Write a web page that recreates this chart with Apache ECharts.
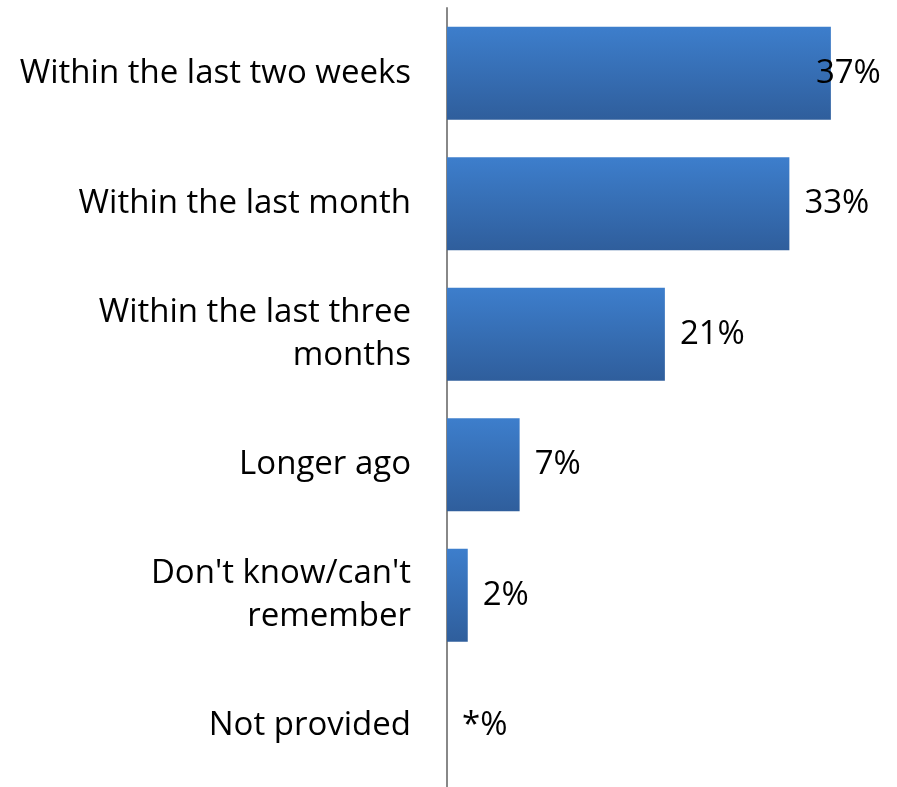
<!DOCTYPE html>
<html>
<head>
<meta charset="utf-8">
<script src="https://cdn.jsdelivr.net/npm/echarts@6/dist/echarts.min.js"></script>
<style>html,body{margin:0;padding:0;background:#fff;}#c{width:897px;height:787px;}</style>
</head>
<body>
<div id="c"></div>
<script>
const categories = ["Within the last two weeks", "Within the last month", "Within the last three\nmonths", "Longer ago", "Don't know/can't\nremember", "Not provided"];
const values = [37, 33, 21, 7, 2, 0];
const valueLabels = ["37%", "33%", "21%", "7%", "2%", "*%"];

const chart = echarts.init(document.getElementById('c'), null, {renderer: 'canvas'});
const FONT = "'Open Sans', 'Liberation Sans', sans-serif";
chart.setOption({
  animation: false,
  grid: {left: 447, top: 8, width: 415, height: 783, outerBoundsMode: 'none', containLabel: false},
  xAxis: {type: 'value', min: 0, max: 40, show: false},
  yAxis: {
    type: 'category', data: categories, inverse: true,
    axisLine: {show: true, lineStyle: {color: '#888888', width: 2}},
    axisTick: {show: false},
    axisLabel: {color: '#000', fontSize: 33, fontFamily: FONT, margin: 36, lineHeight: 43, align: 'right'}
  },
  series: [{
    type: 'bar', barWidth: 93,
    data: values.map((v, i) => i === 0 ? {value: v, label: {offset: [-30, 0]}} : v),
    itemStyle: {color: new echarts.graphic.LinearGradient(0, 0, 0, 1, [{offset: 0, color: '#3d7ecc'}, {offset: 1, color: '#2f5e9c'}])},
    label: {show: true, position: 'right', distance: 15, color: '#000', fontSize: 33, fontFamily: FONT,
      formatter: p => valueLabels[p.dataIndex]}
  }]
});
</script>
</body>
</html>
